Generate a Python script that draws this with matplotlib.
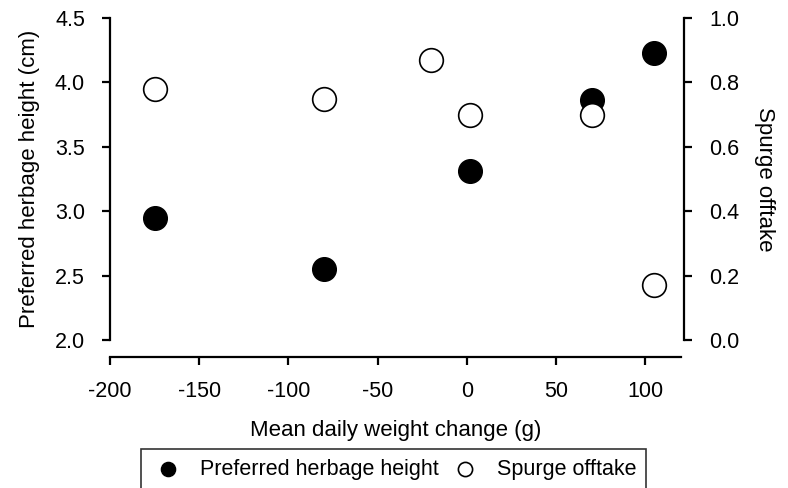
import matplotlib
matplotlib.use('Agg')
import matplotlib.pyplot as plt

plt.rcParams['font.family'] = ['Liberation Sans', 'DejaVu Sans']
plt.rcParams['axes.unicode_minus'] = False

# data
herb_x = [-175, -80, 2, 70, 105]
herb_height = [2.95, 2.55, 3.31, 3.86, 4.23]
spurge_x = [-175, -80, -20, 2, 70, 105]
spurge_offtake = [0.78, 0.75, 0.87, 0.70, 0.70, 0.17]

x_ticks = [-200, -150, -100, -50, 0, 50, 100]
y1_ticks = [2.0, 2.5, 3.0, 3.5, 4.0, 4.5]
y2_ticks = [0.0, 0.2, 0.4, 0.6, 0.8, 1.0]

W, H = 788, 488
fig = plt.figure(figsize=(W / 100, H / 100), dpi=100)

# axes box in pixels (left, top, right, bottom)
l, t, r, b = 110, 18, 681, 340
ax = fig.add_axes([l / W, 1 - b / H, (r - l) / W, (b - t) / H])
ax2 = ax.twinx()

fs = 16
lw = 1.6

ax.scatter(herb_x, herb_height, s=290, c='black', edgecolors='black',
           linewidths=1, zorder=3, label='Preferred herbage height')
ax2.scatter(spurge_x, spurge_offtake, s=290, c='white', edgecolors='black',
            linewidths=1.2, zorder=3, label='Spurge offtake')

ax.set_xlim(-200, 120)
ax.set_ylim(2.0, 4.5)
ax2.set_ylim(0.0, 1.0)

ax.set_xticks(x_ticks)
ax.set_yticks(y1_ticks)
ax.set_yticklabels(['%.1f' % v for v in y1_ticks])
ax2.set_yticks(y2_ticks)
ax2.set_yticklabels(['%.1f' % v for v in y2_ticks])

for a in (ax, ax2):
    a.spines['top'].set_visible(False)
    for s in a.spines.values():
        s.set_linewidth(lw)
    a.tick_params(labelsize=15.5, width=lw, length=6, direction='out', pad=12)

ax.spines['right'].set_visible(False)
ax.spines['bottom'].set_position(('outward', 12.2))
ax2.spines['left'].set_visible(False)
ax2.spines['bottom'].set_visible(False)
ax2.spines['right'].set_position(('outward', 2.2))
ax.tick_params(axis='x', pad=11)

ax.set_xlabel('Mean daily weight change (g)', fontsize=fs, labelpad=13)
ax.set_ylabel('Preferred herbage height (cm)', fontsize=fs, labelpad=11)
ax2.set_ylabel('Spurge offtake', fontsize=fs, rotation=270, labelpad=26)

h1, l1 = ax.get_legend_handles_labels()
h2, l2 = ax2.get_legend_handles_labels()
leg = fig.legend(h1 + h2, l1 + l2, loc='upper center', ncol=2,
                 bbox_to_anchor=(0.4994, 1 - 449 / H), fontsize=15.5,
                 frameon=True, fancybox=False, edgecolor='black',
                 markerscale=0.6, handletextpad=0.7, columnspacing=0.4,
                 handlelength=1.6, borderpad=0.45, borderaxespad=0)
leg.get_frame().set_linewidth(1.2)

fig.savefig('out.png', dpi=100)
